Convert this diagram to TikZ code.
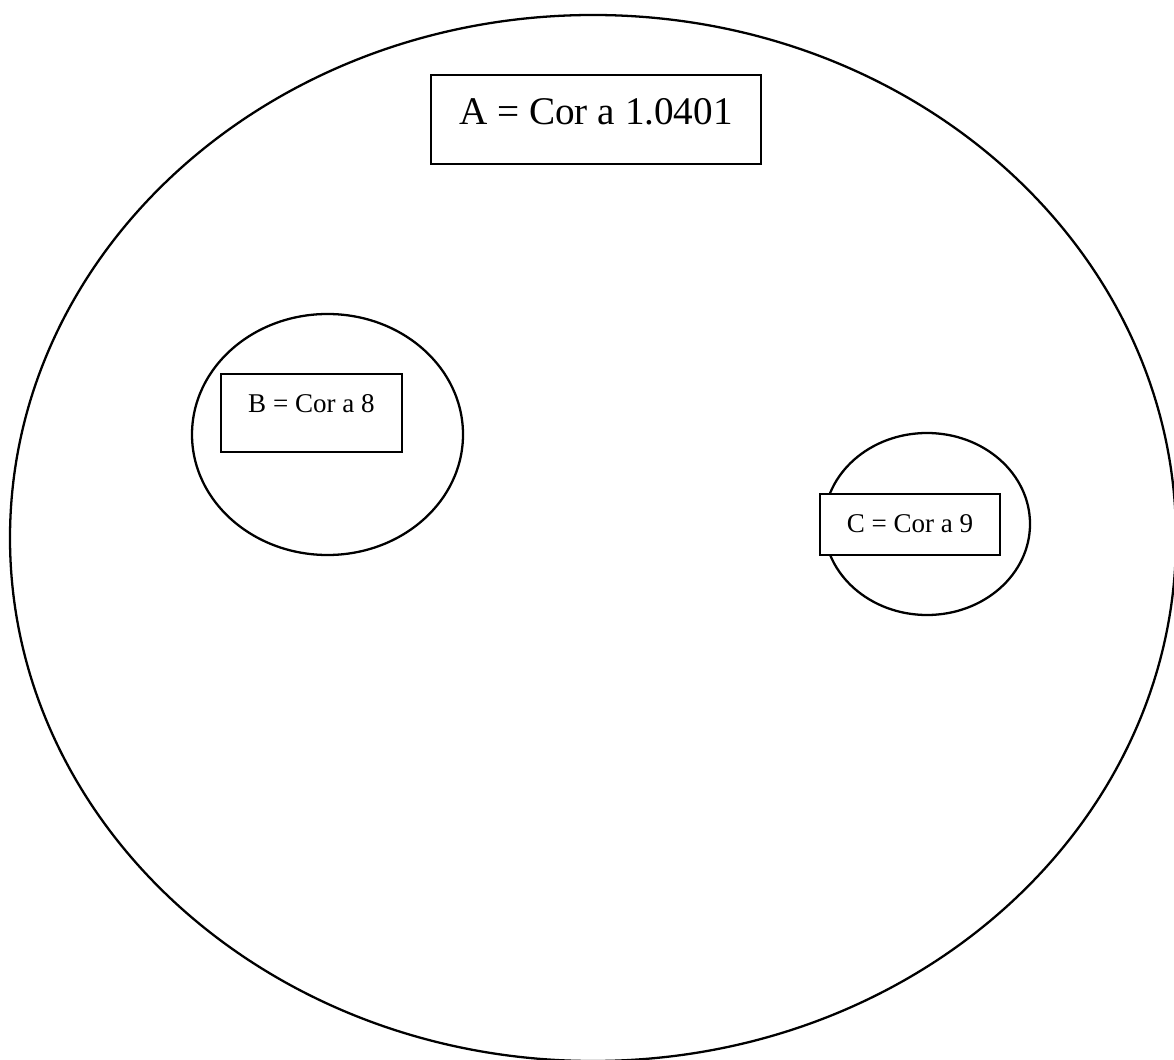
\documentclass[tikz,border=0pt]{standalone}
\usepackage{fontspec}
\setmainfont{Liberation Serif}
\usepackage{tikz}
\usetikzlibrary{positioning}

\begin{document}
\begin{tikzpicture}[line width=1.3pt,
  lbl/.style={draw,fill=white,inner sep=0pt,align=center}]
  \useasboundingbox (0,0) rectangle (23.48,21.18);
  % outer set and the two inner sets
  \draw (11.86,10.42) ellipse (11.66 and 10.46);
  \draw (6.55,12.49) ellipse (2.71 and 2.41);
  \draw (18.54,10.70) ellipse (2.06 and 1.82);
  \node[lbl,minimum width=6.6cm,text height=1.0cm,text depth=0.78cm,font=\fontsize{22.3}{26}\selectfont] (A) at (11.92,18.79) {A = Cor a 1.0401};
  \node[lbl,minimum width=3.62cm,text height=0.78cm,text depth=0.78cm,font=\fontsize{15.4}{18}\selectfont] (B) at (6.23,12.92) {B = Cor a 8};
  \node[lbl,minimum width=3.6cm,text height=0.78cm,text depth=0.44cm,font=\fontsize{15.4}{18}\selectfont] (C) at (18.2,10.69) {C = Cor a 9};
\end{tikzpicture}
\end{document}
